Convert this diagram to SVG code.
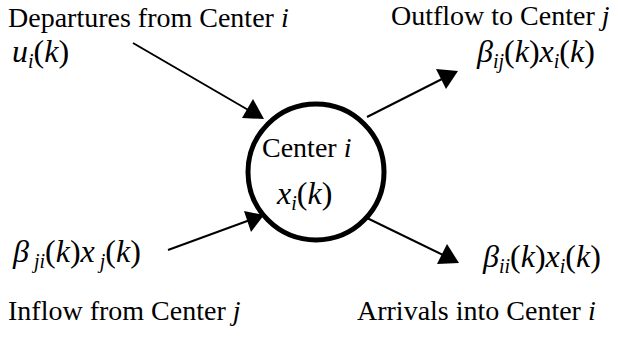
<svg xmlns="http://www.w3.org/2000/svg" width="618" height="337" viewBox="0 0 618 337">
<rect width="618" height="337" fill="#fff"/>
<g id="connectors" stroke="#000" stroke-width="2" fill="#000">
<line x1="133" y1="43" x2="250" y2="111"/>
<polygon points="264,119 242,118 253,99" stroke="none"/>
<line x1="367" y1="117" x2="444" y2="78"/>
<polygon points="458,71 446,89 436,69" stroke="none"/>
<line x1="168" y1="250" x2="250" y2="220"/>
<polygon points="264,215 251,232 244,211" stroke="none"/>
<line x1="367" y1="218" x2="445" y2="256"/>
<polygon points="459,263 437,264 447,244" stroke="none"/>
</g>
<g id="center">
<circle cx="316" cy="172" r="68" fill="#fff" stroke="#000" stroke-width="5"/>
<text x="262" y="157" font-family="Liberation Serif" font-size="28">Center <tspan font-style="italic">i</tspan></text>
<text x="277" y="204" font-family="Liberation Serif" font-size="32"><tspan font-style="italic">x</tspan><tspan font-style="italic" font-size="20" dy="6">i</tspan><tspan dy="-6">(</tspan><tspan font-style="italic">k</tspan>)</text>
</g>
<g id="departures">
<text x="8" y="27" font-family="Liberation Serif" font-size="28">Departures from Center <tspan font-style="italic">i</tspan></text>
<text x="12" y="62" font-family="Liberation Serif" font-size="32"><tspan font-style="italic">u</tspan><tspan font-style="italic" font-size="20" dy="6">i</tspan><tspan dy="-6">(</tspan><tspan font-style="italic">k</tspan>)</text>
</g>
<g id="outflow">
<text x="391" y="25" font-family="Liberation Serif" font-size="28">Outflow to Center <tspan font-style="italic">j</tspan></text>
<text x="477" y="62" font-family="Liberation Serif" font-size="32"><tspan font-style="italic">β</tspan><tspan font-style="italic" font-size="20" dy="6">ij</tspan><tspan dy="-6">(</tspan><tspan font-style="italic">k</tspan>)<tspan font-style="italic">x</tspan><tspan font-style="italic" font-size="20" dy="6">i</tspan><tspan dy="-6">(</tspan><tspan font-style="italic">k</tspan>)</text>
</g>
<g id="inflow">
<text x="13" y="262" font-family="Liberation Serif" font-size="32"><tspan font-style="italic">β</tspan><tspan font-style="italic" font-size="20" dy="6"> ji</tspan><tspan dy="-6">(</tspan><tspan font-style="italic">k</tspan>)<tspan font-style="italic">x</tspan><tspan font-style="italic" font-size="20" dy="6"> j</tspan><tspan dy="-6">(</tspan><tspan font-style="italic">k</tspan>)</text>
<text x="8" y="320" font-family="Liberation Serif" font-size="28">Inflow from Center <tspan font-style="italic">j</tspan></text>
</g>
<g id="arrivals">
<text x="483" y="267" font-family="Liberation Serif" font-size="32"><tspan font-style="italic">β</tspan><tspan font-style="italic" font-size="20" dy="6">ii</tspan><tspan dy="-6">(</tspan><tspan font-style="italic">k</tspan>)<tspan font-style="italic">x</tspan><tspan font-style="italic" font-size="20" dy="6">i</tspan><tspan dy="-6">(</tspan><tspan font-style="italic">k</tspan>)</text>
<text x="357" y="320" font-family="Liberation Serif" font-size="28">Arrivals into Center <tspan font-style="italic">i</tspan></text>
</g>
</svg>
